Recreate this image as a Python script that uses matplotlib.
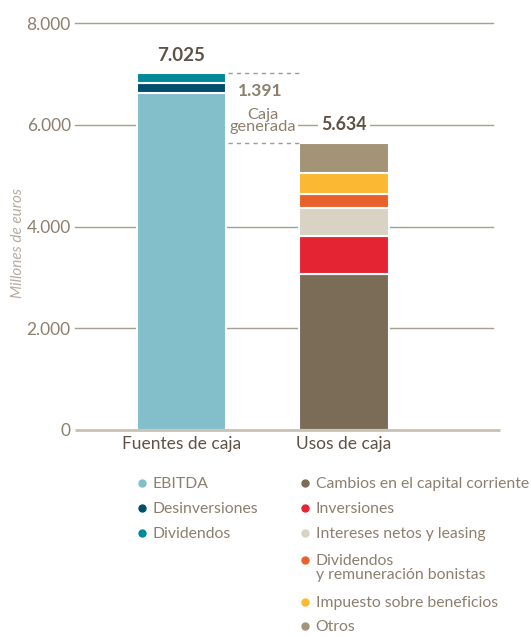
import matplotlib
matplotlib.use("Agg")
import matplotlib.pyplot as plt
from matplotlib.lines import Line2D

plt.rcParams['font.family'] = ['Lato', 'DejaVu Sans']

# Data
categories = ["Fuentes de caja", "Usos de caja"]
fuentes_labels = ["EBITDA", "Desinversiones", "Dividendos"]
fuentes_values = [6630, 185, 210]
fuentes_colors = ["#82BFCA", "#004E6E", "#00899A"]

usos_labels = ["Cambios en el capital corriente", "Inversiones", "Intereses netos y leasing",
               "Dividendos\ny remuneración bonistas", "Impuesto sobre beneficios", "Otros"]
usos_values = [3060, 750, 545, 283, 407, 589]
usos_colors = ["#7B6C58", "#E52433", "#D8D3C2", "#E8612A", "#FBB832", "#A39478"]

total_fuentes = 7025
total_usos = 5634
caja_generada = 1391
yticks = [0, 2000, 4000, 6000, 8000]
ytick_labels = ["0", "2.000", "4.000", "6.000", "8.000"]

W, H = 531, 637
fig = plt.figure(figsize=(W / 100, H / 100), dpi=100)
ax = fig.add_axes([75 / W, 1 - 430 / H, (493 - 75) / W, (430 - 23) / H])

grid_c = "#A89E8E"
tick_c = "#8C7F6E"
dark_c = "#5E5247"
leg_c = "#8C7F6E"

ax.set_ylim(0, 8000)
ax.set_xlim(-0.655, 1.917)
width = 0.548

for y in yticks[1:]:
    ax.axhline(y, color=grid_c, lw=1.0, zorder=0, clip_on=False)
ax.plot([-0.655, 1.96], [0, 0], color="#C8C2B4", lw=2, zorder=4, clip_on=False, solid_capstyle='butt')

bottom = 0
for v, c in zip(fuentes_values, fuentes_colors):
    ax.bar(0, v, width, bottom=bottom, color=c, edgecolor="white", linewidth=1.5, zorder=2)
    bottom += v
bottom = 0
for v, c in zip(usos_values, usos_colors):
    ax.bar(1, v, width, bottom=bottom, color=c, edgecolor="white", linewidth=1.5, zorder=2)
    bottom += v

# dashed connectors
ax.plot([width / 2 + 0.01, 1 - width / 2], [total_fuentes, total_fuentes], ls=(0, (3, 3)), color="#9A9A9A", lw=1, zorder=3)
ax.plot([width / 2 + 0.01, 1 - width / 2], [total_usos, total_usos], ls=(0, (3, 3)), color="#9A9A9A", lw=1, zorder=3)

# annotations
ax.text(0, total_fuentes + 170, f"{total_fuentes:,}".replace(",", "."), ha="center", va="bottom",
        fontsize=13.5, fontweight="bold", color=dark_c)
ax.text(0.483, 6670, f"{caja_generada:,}".replace(",", "."), ha="center", va="center",
        fontsize=12.5, fontweight="bold", color=leg_c)
ax.text(0.50, 6080, "Caja\ngenerada", ha="center", va="center", fontsize=11.8, color=leg_c, linespacing=0.85,
        bbox=dict(facecolor="white", edgecolor="none", pad=1.5), zorder=1.5)
ax.text(1, 6000, f"{total_usos:,}".replace(",", "."), ha="center", va="center", fontsize=12.8,
        fontweight="bold", color=dark_c,
        bbox=dict(facecolor="white", edgecolor="none", pad=2.5), zorder=5)

ax.set_yticks(yticks)
ax.set_yticklabels(ytick_labels, fontsize=12.5, color=tick_c)
ax.set_xticks([0, 1])
ax.set_xticklabels(categories, fontsize=12.5, color=dark_c)
ax.tick_params(axis="both", length=0, pad=3)
ax.tick_params(axis="x", pad=4)
for s in ax.spines.values():
    s.set_visible(False)

fig.text(18 / W, 1 - 243 / H, "Millones de euros", rotation=90, ha="center", va="center",
         fontsize=11, style="italic", color="#B5AC9F")

# legend (manual rows)
def legend_column(labels, colors, x_marker, rows):
    for lab, c, ym in zip(labels, colors, rows):
        fig.add_artist(Line2D([x_marker / W], [1 - ym / H], transform=fig.transFigure,
                              marker="o", ls="", markersize=5, color=c))
        for k, line in enumerate(lab.split("\n")):
            fig.text((x_marker + 11) / W, 1 - (ym + 5 + 14 * k) / H, line, ha="left",
                     va="baseline", fontsize=11.3, color=leg_c)

legend_column(fuentes_labels, fuentes_colors, 141.5, [483, 508, 533])
legend_column(usos_labels, usos_colors, 304.5, [483, 508, 533, 560, 602, 626])

fig.savefig("out.png", dpi=100)
